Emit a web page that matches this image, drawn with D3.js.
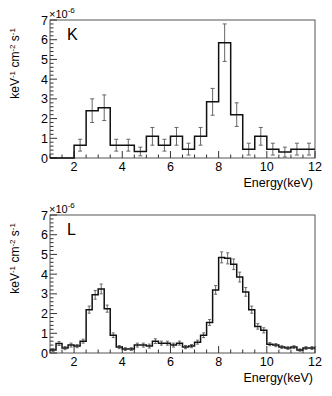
<!DOCTYPE html>
<html>
<head>
<meta charset="utf-8">
<script src="https://cdn.jsdelivr.net/npm/d3@7"></script>
<style>
  body { margin: 0; background: #fff; }
  text { font-family: "Liberation Sans", Arial, sans-serif; fill: #000; }
</style>
</head>
<body>
<div id="chart"></div>
<script>
// energy range (keV)
var X_MIN = 1, X_MAX = 12;

// panel K: 0.5 keV bins starting at 1 keV
var kWidth = 0.5;
var kValues = [0, 0, 0.65, 2.4, 2.55, 0.65, 0.65, 0.33, 1.1, 0.65, 1.1, 0.45,
  1.1, 2.85, 5.85, 2.2, 0.45, 1.1, 0.45, 0.3, 0.45, 0.45];
var kErrors = [0, 0, 0.3, 0.6, 0.65, 0.3, 0.3, 0.22, 0.45, 0.3, 0.45, 0.3,
  0.45, 0.68, 0.95, 0.6, 0.3, 0.45, 0.3, 0.25, 0.3, 0.3];

// panel L: 0.25 keV bins starting at 1 keV
var lWidth = 0.25;
var lValues = [0.15, 0.48, 0.25, 0.4, 0.35, 0.6, 2.2, 2.95, 3.25, 2.25, 0.9, 0.3,
  0.2, 0.2, 0.4, 0.4, 0.35, 0.6, 0.5, 0.5, 0.4, 0.5, 0.3, 0.35,
  0.55, 0.9, 1.55, 3.2, 4.85, 4.8, 4.5, 3.85, 3.1, 2.2, 1.35, 1.15,
  0.45, 0.4, 0.3, 0.25, 0.3, 0.15, 0.25, 0.25];
var lErrors = [0.08, 0.1, 0.08, 0.1, 0.08, 0.1, 0.18, 0.22, 0.25, 0.18, 0.12, 0.08,
  0.07, 0.07, 0.1, 0.1, 0.1, 0.12, 0.1, 0.1, 0.1, 0.1, 0.08, 0.08,
  0.1, 0.12, 0.15, 0.22, 0.28, 0.28, 0.27, 0.25, 0.22, 0.18, 0.14, 0.13,
  0.08, 0.08, 0.07, 0.07, 0.07, 0.06, 0.07, 0.07];

var yTicks = [0, 1, 2, 3, 4, 5, 6, 7];
var xTicks = [2, 4, 6, 8, 10, 12];

var W = 332, H = 396;
var svg = d3.select('#chart').append('svg')
  .attr('width', W).attr('height', H);

function drawPanel(top, label, values, errors, binW) {
  var left = 50, right = 315, bottom = top + 138;
  var x = d3.scaleLinear().domain([X_MIN, X_MAX]).range([left, right]);
  var y = d3.scaleLinear().domain([0, 7]).range([bottom, top]);
  var g = svg.append('g');

  // frame
  g.append('rect')
    .attr('x', left).attr('y', top)
    .attr('width', right - left).attr('height', bottom - top)
    .attr('fill', 'none').attr('stroke', '#555').attr('stroke-width', 1);

  // x ticks (inward)
  var xMinor = d3.range(X_MIN, X_MAX + 0.001, 0.5);
  g.selectAll('.xt').data(xMinor).enter().append('line')
    .attr('x1', function (d) { return x(d); })
    .attr('x2', function (d) { return x(d); })
    .attr('y1', bottom)
    .attr('y2', function (d) { return d % 2 === 0 ? bottom - 7 : bottom - 3.5; })
    .attr('stroke', '#333').attr('stroke-width', 1);
  g.selectAll('.xl').data(xTicks).enter().append('text')
    .attr('x', function (d) { return x(d); })
    .attr('y', bottom + 13)
    .attr('text-anchor', 'middle')
    .style('font-size', '12.5px')
    .text(function (d) { return d; });

  // y ticks (inward)
  var yMinor = d3.range(0, 7.001, 0.2);
  g.selectAll('.yt').data(yMinor).enter().append('line')
    .attr('x1', left)
    .attr('x2', function (d) { return Math.abs(d - Math.round(d)) < 1e-6 ? left + 7 : left + 3.5; })
    .attr('y1', function (d) { return y(d); })
    .attr('y2', function (d) { return y(d); })
    .attr('stroke', '#333').attr('stroke-width', 1);
  g.selectAll('.yl').data(yTicks).enter().append('text')
    .attr('x', left - 2)
    .attr('y', function (d) { return y(d) + 4.5; })
    .attr('text-anchor', 'end')
    .style('font-size', '12.5px')
    .text(function (d) { return d; });

  // exponent
  var ex = g.append('text').attr('x', left - 1).attr('y', top - 2)
    .style('font-size', '11px');
  ex.append('tspan').text('\u00d710');
  ex.append('tspan').attr('dy', -5).style('font-size', '8px').text('-6');

  // axis titles
  g.append('text')
    .attr('x', 313).attr('y', bottom + 29)
    .attr('text-anchor', 'end')
    .style('font-size', '12.5px')
    .text('Energy(keV)');

  var yt = g.append('text')
    .attr('transform', 'translate(19,' + (top + 8) + ') rotate(-90)')
    .attr('text-anchor', 'end')
    .style('font-size', '12px');
  yt.append('tspan').text('keV');
  yt.append('tspan').attr('dy', -4).style('font-size', '8px').text('-1');
  yt.append('tspan').attr('dy', 4).text(' cm');
  yt.append('tspan').attr('dy', -4).style('font-size', '8px').text('-2');
  yt.append('tspan').attr('dy', 4).text(' s');
  yt.append('tspan').attr('dy', -4).style('font-size', '8px').text('-1');

  // panel label
  g.append('text')
    .attr('x', 67).attr('y', top + 20)
    .style('font-size', '16px')
    .text(label);

  // bins
  var bins = values.map(function (v, i) {
    return { lo: X_MIN + i * binW, v: v, e: errors[i] };
  });

  // error bars
  var eb = g.selectAll('.eb').data(bins.filter(function (d) { return d.e > 0; }))
    .enter().append('g').attr('stroke', '#666').attr('stroke-width', 1);
  var cap = binW > 0.3 ? 2 : 1.5;
  eb.append('line')
    .attr('x1', function (d) { return x(d.lo + binW / 2); })
    .attr('x2', function (d) { return x(d.lo + binW / 2); })
    .attr('y1', function (d) { return y(d.v - d.e); })
    .attr('y2', function (d) { return y(d.v + d.e); });
  eb.append('line')
    .attr('x1', function (d) { return x(d.lo + binW / 2) - cap; })
    .attr('x2', function (d) { return x(d.lo + binW / 2) + cap; })
    .attr('y1', function (d) { return y(d.v - d.e); })
    .attr('y2', function (d) { return y(d.v - d.e); });
  eb.append('line')
    .attr('x1', function (d) { return x(d.lo + binW / 2) - cap; })
    .attr('x2', function (d) { return x(d.lo + binW / 2) + cap; })
    .attr('y1', function (d) { return y(d.v + d.e); })
    .attr('y2', function (d) { return y(d.v + d.e); });

  // histogram step line
  var pts = bins.map(function (d) { return [d.lo, d.v]; });
  pts.push([X_MAX, values[values.length - 1]]);
  var line = d3.line()
    .x(function (d) { return x(d[0]); })
    .y(function (d) { return y(d[1]); })
    .curve(d3.curveStepAfter);
  g.append('path')
    .attr('d', line(pts))
    .attr('fill', 'none')
    .attr('stroke', '#111')
    .attr('stroke-width', 1.5);
}

drawPanel(20, 'K', kValues, kErrors, kWidth);
drawPanel(215, 'L', lValues, lErrors, lWidth);
</script>
</body>
</html>
